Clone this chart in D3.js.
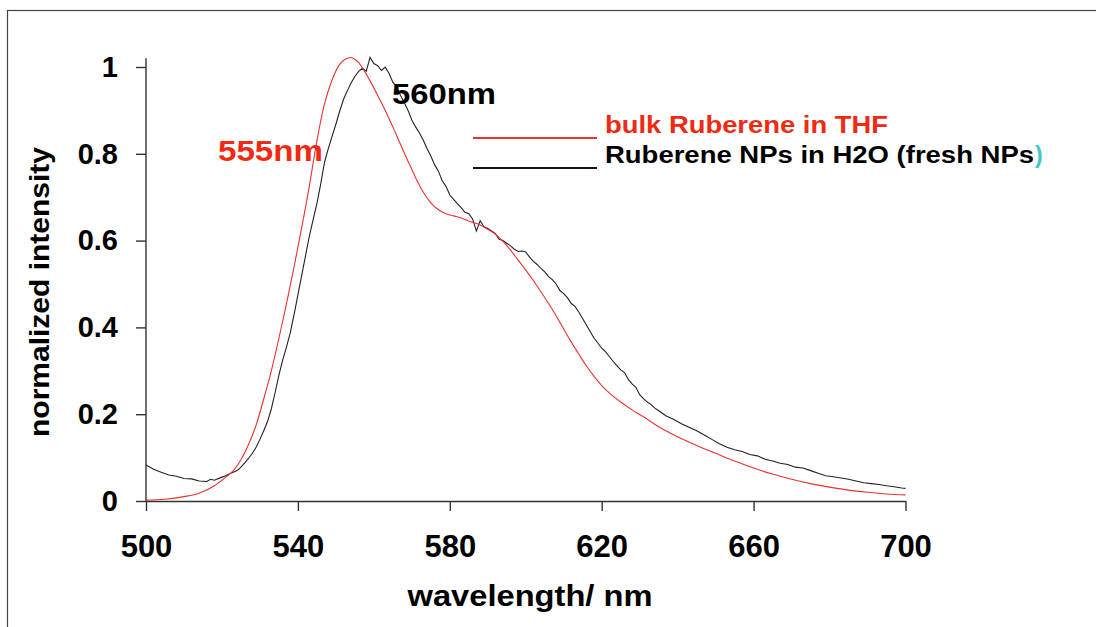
<!DOCTYPE html>
<html lang="en">
	<head>
		<meta charset="utf-8">
		<title>Normalized emission spectra</title>
		<script type="text/javascript" src="https://cdn.jsdelivr.net/npm/d3@7"></script>
		<style type="text/css">
			body { margin: 0; background: #fff; }
			.axis path, .axis line { fill: none; stroke: #333; stroke-width: 1.4px; }
			.axis text { font-family: "Liberation Sans", Arial, sans-serif; font-weight: bold; fill: #000; }
			.lbl { font-family: "Liberation Sans", Arial, sans-serif; font-weight: bold; }
		</style>
	</head>
	<body>
		<script type="text/javascript">

			//Red curve: bulk Ruberene in THF
			var redNm  = [500, 505, 510, 514, 518, 521, 523, 525, 527, 529, 531, 533, 535, 537, 539, 541, 543, 545, 547, 549, 551, 552, 553, 554, 555, 556, 557, 559, 561, 563, 565, 567, 569, 571, 573, 575, 577, 579, 581, 583, 585, 588, 590, 592, 594, 596, 598, 600, 602, 604, 606, 608, 610, 612, 614, 616, 618, 620, 622, 625, 628, 631, 635, 640, 645, 650, 655, 660, 665, 670, 675, 680, 685, 690, 695, 700];
			var redVal = [0.002, 0.004, 0.01, 0.018, 0.035, 0.055, 0.07, 0.095, 0.13, 0.175, 0.235, 0.3, 0.375, 0.455, 0.54, 0.63, 0.725, 0.83, 0.915, 0.97, 1.006, 1.015, 1.02, 1.022, 1.018, 1.01, 0.998, 0.968, 0.935, 0.9, 0.862, 0.822, 0.783, 0.745, 0.712, 0.687, 0.671, 0.662, 0.657, 0.652, 0.645, 0.636, 0.626, 0.615, 0.598, 0.578, 0.555, 0.532, 0.508, 0.482, 0.455, 0.427, 0.396, 0.366, 0.338, 0.311, 0.287, 0.266, 0.249, 0.228, 0.21, 0.194, 0.171, 0.148, 0.128, 0.11, 0.092, 0.076, 0.062, 0.05, 0.04, 0.032, 0.025, 0.02, 0.016, 0.014];

			//Black curve: Ruberene NPs in H2O
			var blackNm  = [500, 502, 504, 506, 508, 510, 512, 514, 516, 517, 518, 520, 521, 522, 523, 524, 525, 526, 527, 528, 529, 530, 531, 532, 533, 534, 535, 536, 537, 538, 539, 540, 541, 542, 543, 544, 545, 546, 547, 548, 549, 550, 551, 552, 553, 554, 555, 556, 557, 558, 559, 560, 561, 562, 563, 564, 565, 566, 567, 568, 569, 570, 571, 572, 573, 574, 575, 576, 577, 578, 579, 580, 581, 582, 583, 584, 585, 586, 587, 588, 589, 590, 591, 592, 593, 594, 595, 596, 597, 598, 599, 600, 601, 602, 603, 604, 605, 606, 607, 608, 609, 610, 611, 612, 613, 614, 615, 616, 617, 618, 619, 620, 621, 622, 623, 624, 625, 626, 627, 628, 629, 630, 631, 632, 633, 634, 635, 637, 639, 641, 643, 645, 647, 649, 651, 653, 655, 657, 659, 661, 663, 665, 667, 669, 671, 673, 675, 677, 679, 681, 683, 685, 687, 689, 691, 693, 695, 697, 699, 700];
			var blackVal = [0.083, 0.073, 0.066, 0.06, 0.057, 0.052, 0.051, 0.046, 0.045, 0.05, 0.048, 0.055, 0.058, 0.063, 0.066, 0.07, 0.078, 0.088, 0.098, 0.11, 0.124, 0.142, 0.162, 0.183, 0.212, 0.25, 0.29, 0.325, 0.355, 0.388, 0.43, 0.475, 0.52, 0.565, 0.61, 0.648, 0.685, 0.73, 0.78, 0.812, 0.84, 0.868, 0.898, 0.925, 0.945, 0.963, 0.978, 0.99, 0.997, 0.99, 1.022, 1.008, 1.003, 0.992, 1.0, 0.985, 0.965, 0.955, 0.935, 0.918, 0.9, 0.878, 0.862, 0.848, 0.832, 0.812, 0.795, 0.775, 0.76, 0.738, 0.725, 0.705, 0.695, 0.685, 0.676, 0.665, 0.662, 0.65, 0.622, 0.646, 0.632, 0.628, 0.622, 0.616, 0.603, 0.6, 0.594, 0.588, 0.58, 0.575, 0.576, 0.574, 0.562, 0.552, 0.545, 0.536, 0.528, 0.517, 0.51, 0.5, 0.485, 0.478, 0.468, 0.455, 0.448, 0.435, 0.42, 0.405, 0.39, 0.375, 0.364, 0.352, 0.344, 0.333, 0.322, 0.312, 0.302, 0.296, 0.28, 0.27, 0.262, 0.245, 0.236, 0.228, 0.222, 0.214, 0.208, 0.196, 0.188, 0.178, 0.17, 0.162, 0.152, 0.142, 0.132, 0.124, 0.118, 0.114, 0.107, 0.104, 0.096, 0.092, 0.087, 0.084, 0.078, 0.076, 0.07, 0.064, 0.058, 0.056, 0.053, 0.05, 0.046, 0.042, 0.04, 0.038, 0.035, 0.033, 0.03, 0.029];

			var xTicks = [500, 540, 580, 620, 660, 700];
			var yTicks = [0, 0.2, 0.4, 0.6, 0.8, 1];
			var yTickLabels = ["0", "0.2", "0.4", "0.6", "0.8", "1"];

			var w = 1096;
			var h = 627;

			var xScale = d3.scaleLinear().domain([500, 700]).range([146, 905.5]);
			var yScale = d3.scaleLinear().domain([0, 1]).range([501, 67]);

			var svg = d3.select("body")
						.append("svg")
						.attr("width", w)
						.attr("height", h);

			//frame round the picture (runs off right and bottom)
			svg.append("rect")
				.attr("x", 7.5).attr("y", 10.5)
				.attr("width", 1200).attr("height", 800)
				.attr("fill", "none").attr("stroke", "#444").attr("stroke-width", 1.2);

			//axes
			var xAxis = d3.axisBottom(xScale)
						.tickValues(xTicks)
						.tickSize(10)
						.tickSizeOuter(0)
						.tickPadding(24)
						.tickFormat(d3.format("d"));

			var yAxis = d3.axisLeft(yScale)
						.tickValues(yTicks)
						.tickSize(10)
						.tickSizeOuter(0)
						.tickPadding(18)
						.tickFormat(function(d, i) { return yTickLabels[i]; });

			var gx = svg.append("g")
				.attr("class", "axis")
				.attr("transform", "translate(0," + yScale(0) + ")")
				.call(xAxis);
			gx.selectAll("text").attr("font-size", "31px");

			var gy = svg.append("g")
				.attr("class", "axis")
				.attr("transform", "translate(" + xScale(500) + ",0)")
				.call(yAxis);
			gy.selectAll("text").attr("font-size", "29px");
			//stretch y axis line up a little past 1
			gy.select(".domain").attr("d", "M0," + yScale(1.02) + "V" + yScale(0));

			//curves
			var red = redNm.map(function(d, i) { return [d, redVal[i]]; });
			var black = blackNm.map(function(d, i) { return [d, blackVal[i]]; });

			var line = d3.line()
						.x(function(d) { return xScale(d[0]); })
						.y(function(d) { return yScale(d[1]); });

			svg.append("path")
				.datum(black)
				.attr("fill", "none")
				.attr("stroke", "#222")
				.attr("stroke-width", 1.1)
				.attr("d", line);

			svg.append("path")
				.datum(red)
				.attr("fill", "none")
				.attr("stroke", "#e8332f")
				.attr("stroke-width", 1.1)
				.attr("d", line.curve(d3.curveMonotoneX));

			//peak labels
			svg.append("text").attr("class", "lbl")
				.attr("x", 218).attr("y", 161)
				.attr("font-size", "29px").attr("fill", "#f02a10")
				.attr("textLength", 105).attr("lengthAdjust", "spacingAndGlyphs")
				.text("555nm");

			svg.append("text").attr("class", "lbl")
				.attr("x", 392).attr("y", 104)
				.attr("font-size", "29px").attr("fill", "#000")
				.attr("textLength", 104).attr("lengthAdjust", "spacingAndGlyphs")
				.text("560nm");

			//legend
			svg.append("line")
				.attr("x1", 473).attr("x2", 597).attr("y1", 138).attr("y2", 138)
				.attr("stroke", "#e8332f").attr("stroke-width", 2);
			svg.append("line")
				.attr("x1", 473).attr("x2", 597).attr("y1", 168).attr("y2", 168)
				.attr("stroke", "#111").attr("stroke-width", 2);

			svg.append("text").attr("class", "lbl")
				.attr("x", 605).attr("y", 133)
				.attr("font-size", "23px").attr("fill", "#ee2a12")
				.attr("textLength", 283).attr("lengthAdjust", "spacingAndGlyphs")
				.text("bulk Ruberene in THF");

			svg.append("text").attr("class", "lbl")
				.attr("x", 605).attr("y", 163)
				.attr("font-size", "23px").attr("fill", "#000")
				.attr("textLength", 429).attr("lengthAdjust", "spacingAndGlyphs")
				.text("Ruberene NPs in H2O (fresh NPs");
			svg.append("text").attr("class", "lbl")
				.attr("x", 1035).attr("y", 163)
				.attr("font-size", "23px").attr("fill", "#3cc8cc")
				.text(")");

			//axis titles
			svg.append("text").attr("class", "lbl")
				.attr("x", 530).attr("y", 606)
				.attr("text-anchor", "middle")
				.attr("font-size", "29px")
				.attr("textLength", 245).attr("lengthAdjust", "spacingAndGlyphs")
				.text("wavelength/ nm");

			svg.append("text").attr("class", "lbl")
				.attr("transform", "translate(49,292) rotate(-90)")
				.attr("text-anchor", "middle")
				.attr("font-size", "27px")
				.attr("textLength", 290).attr("lengthAdjust", "spacingAndGlyphs")
				.text("normalized intensity");

		</script>
	</body>
</html>
